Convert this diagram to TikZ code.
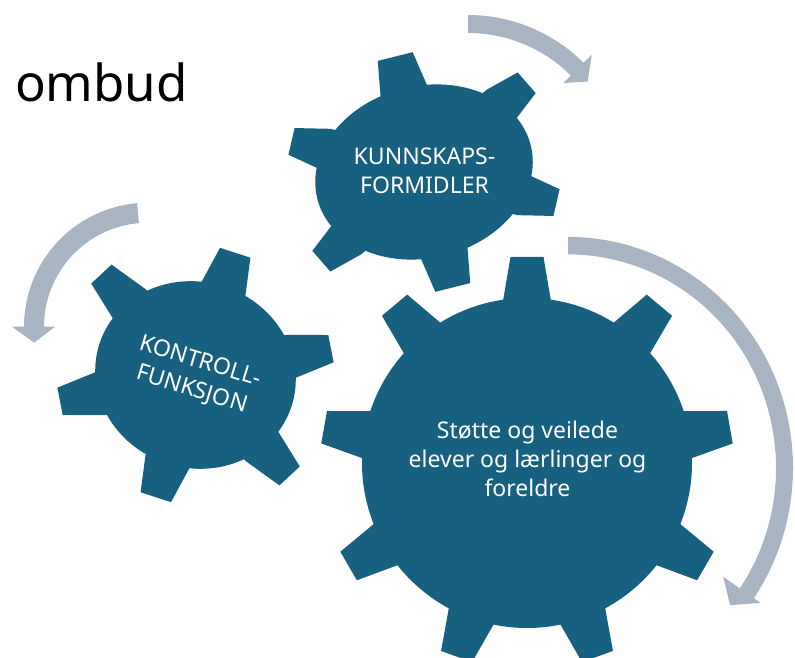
\documentclass[tikz,border=0pt]{standalone}
\usepackage{fontspec}
\setmainfont{Noto Sans}
\definecolor{gearblue}{HTML}{17607F}
\definecolor{arrowgrey}{HTML}{A8B4C2}
\tikzset{
  gearfill/.style={fill=gearblue, draw=none},
  arrowfill/.style={fill=arrowgrey, draw=none},
  geartext/.style={text=white, align=center, inner sep=0pt, font=\fontsize{23}{29}\selectfont},
  titletext/.style={text=black, inner sep=0pt, font=\fontsize{51}{60}\selectfont},
}
% tooth: #1 angle, #2 radius where flank meets body, #3 base half width, #4 tip radius, #5 tip half width
\newcommand{\geartooth}[5]{%
  \fill[gearfill, rotate=#1] (0,-#3) -- (#2,-#3) -- (#4,-#5) -- (#4,#5) -- (#2,#3) -- (0,#3) -- cycle;}
\begin{document}
\begin{tikzpicture}[x=1pt,y=1pt]
\useasboundingbox (0,0) rectangle (795,658);
\clip (0,0) rectangle (795,658);

% title (cut off at the left edge)
\node[titletext, anchor=base east] (title) at (188,556.3) {n ombud};

% arrows
\begin{scope}[shift={(468,479.5)}]
  \fill[arrowfill] (90:163.5) arc[start angle=90, end angle=45, radius=163.5]
    -- (45:175) -- (39:154) -- (45:135) -- (45:145.5)
    arc[start angle=45, end angle=90, radius=145.5] -- cycle;
\end{scope}
\begin{scope}[shift={(148,331.3)}]
  \fill[arrowfill] (95:124) arc[start angle=95, end angle=180, radius=124]
    -- (180:136) -- (188:115) -- (180:93) -- (180:104)
    arc[start angle=180, end angle=95, radius=104] -- cycle;
\end{scope}
\begin{scope}[shift={(568,190)}, yscale=1.027]
  \fill[arrowfill] (90:225) arc[start angle=90, end angle=-34.3, radius=225]
    -- (-34.3:233) -- (-39.5:210) -- (-34.3:188) -- (-34.3:208)
    arc[start angle=-34.3, end angle=90, radius=208] -- cycle;
\end{scope}

% small gear
\begin{scope}[shift={(424,486)}, rotate=14]
  \fill[gearfill] (0,0) ellipse [x radius=110, y radius=86];
  \geartooth{90}{83}{24}{119}{18}
  \geartooth{-90}{83}{24}{119}{18}
  \foreach \a in {27,-27,153,-153} {\geartooth{\a}{101}{21}{136}{13.7}}
\end{scope}

% medium gear
\begin{scope}[shift={(195.5,283)}, rotate=-18]
  \fill[gearfill] (0,0) ellipse [x radius=101, y radius=93];
  \geartooth{90}{90.5}{23}{128.5}{16}
  \geartooth{-90}{90.5}{23}{128.5}{16}
  \foreach \a in {29,-29,151,-151} {\geartooth{\a}{97}{22}{138}{13.9}}
\end{scope}

% large gear
\begin{scope}[shift={(527,195)}]
  \fill[gearfill] (0,0) circle (165);
  \foreach \a in {90,50,10,-30,-70,-110,-150,-190,-230} {\geartooth{\a}{162}{24}{206}{16.5}}
\end{scope}

% labels
\node[geartext] (smalltext) at (424.5,487.5) {KUNNSKAPS-\\FORMIDLER};
\node[geartext, rotate=-17] (midtext) at (196,282) {KONTROLL-\\FUNKSJON};
\node[geartext] (bigtext) at (527.5,199.2) {Støtte og veilede\\elever og lærlinger og\\foreldre};
\end{tikzpicture}
\end{document}
